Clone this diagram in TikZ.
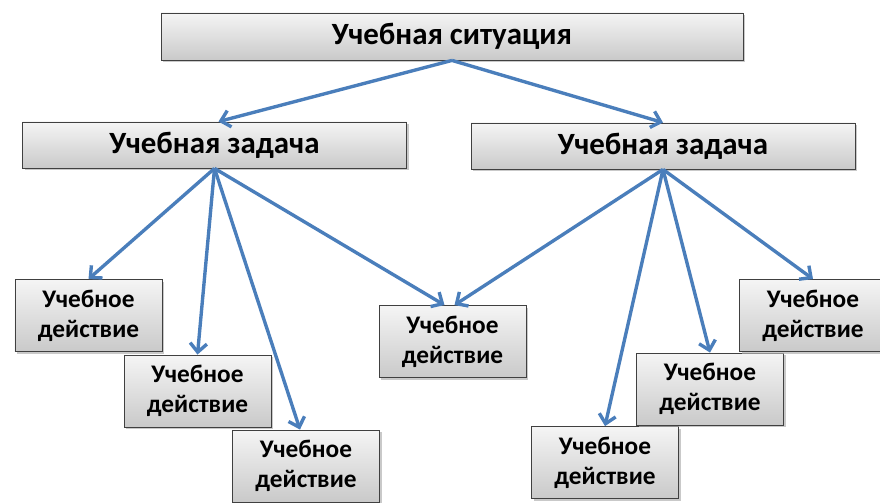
\documentclass[tikz,border=0pt]{standalone}
\usepackage{fontspec}
\setmainfont{Carlito}
\usetikzlibrary{arrows.meta,shadows}
\definecolor{arrowblue}{HTML}{4A7EBB}

\begin{document}
\begin{tikzpicture}[
	box/.style={draw=black!75, line width=0.6pt, top color=gray!8, bottom color=gray!42,
		drop shadow={shadow xshift=0.05cm, shadow yshift=-0.05cm, fill=gray!60, opacity=0.7},
		font=\bfseries, text=black, align=center, inner sep=0pt},
	headbox/.style={box, minimum width=14.55cm, minimum height=1.175cm, font=\fontsize{22}{26}\selectfont\bfseries},
	taskbox/.style={box, minimum width=9.6cm, minimum height=1.15cm, font=\fontsize{22}{26}\selectfont\bfseries},
	actbox/.style={box, minimum width=3.675cm, minimum height=1.8cm, font=\fontsize{18}{21.5}\selectfont\bfseries},
	link/.style={draw=arrowblue, line width=2.4pt, -{Straight Barb[length=2.2mm,width=4.2mm]}}
	]
			\useasboundingbox (0,0) rectangle (22,12.55);
			% top level
			\node[headbox] (sit) at (11.3,11.6375) {Учебная ситуация};
			% tasks
			\node[taskbox] (taskL) at (5.3625,8.925) {Учебная задача};
			\node[taskbox] (taskR) at (16.575,8.9) {Учебная задача};
			% actions
			\node[actbox] (act1) at (2.2125,4.6625) {Учебное\\действие};
			\node[actbox] (act2) at (4.9375,2.775) {Учебное\\действие};
			\node[actbox] (act3) at (7.65,0.9) {Учебное\\действие};
			\node[actbox] (act4) at (11.3125,4.0125) {Учебное\\действие};
			\node[actbox] (act5) at (15.125,0.9875) {Учебное\\действие};
			\node[actbox] (act6) at (17.75,2.825) {Учебное\\действие};
			\node[actbox] (act7) at (20.325,4.6625) {Учебное\\действие};
			% connectors
			\draw[link] (sit.south) -- ([xshift=0.1cm]taskL.north);
			\draw[link] (sit.south) -- (taskR.north);
			\draw[link] (taskL.south) -- (act1.north);
			\draw[link] (taskL.south) -- (act2.north);
			\draw[link] (taskL.south) -- ([xshift=-0.15cm]act3.north);
			\draw[link] (taskL.south) -- ([xshift=-0.2cm]act4.north);
			\draw[link] (taskR.south) -- ([xshift=0.05cm]act4.north);
			\draw[link] (taskR.south) -- (act5.north);
			\draw[link] (taskR.south) -- (act6.north);
			\draw[link] (taskR.south) -- (act7.north);
\end{tikzpicture}
\end{document}
